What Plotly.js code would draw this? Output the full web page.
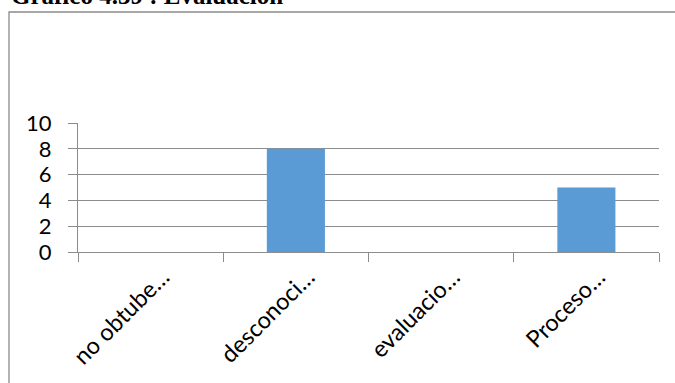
<!DOCTYPE html>
<html>
<head>
<meta charset="utf-8">
<script src="https://cdn.plot.ly/plotly-3.0.1.min.js"></script>
<style>
  html, body { margin: 0; padding: 0; background: #ffffff; }
  #chart { width: 675px; height: 383px; }
</style>
</head>
<body>
<div id="chart"></div>
<script>
// Responses grouped by answer
const categories = ["no obtube…", "desconoci…", "evaluacio…", "Proceso…"];
const counts = [0, 8, 0, 5];
const yTicks = [0, 2, 4, 6, 8, 10];
const heading = "Gráfico 4.39 : Evaluación";

const W = 675, H = 383;
const margin = { l: 78, r: 16, t: 123, b: 131 };
const plotW = W - margin.l - margin.r;
const plotH = H - margin.t - margin.b;
// pixel -> paper helpers for frame and heading placement
const px = x => (x - margin.l) / plotW;
const py = y => (H - margin.b - y) / plotH;

const gridColor = "#8c8c8c";
const sans = "Lato, 'Open Sans', sans-serif";

const trace = {
  type: "bar",
  x: categories,
  y: counts,
  marker: { color: "#5b9bd5", line: { width: 0 } },
  hoverinfo: "skip"
};

const layout = {
  width: W,
  height: H,
  margin: margin,
  paper_bgcolor: "#ffffff",
  plot_bgcolor: "#ffffff",
  bargap: 0.6,
  showlegend: false,
  xaxis: {
    type: "category",
    showline: true,
    linecolor: gridColor,
    linewidth: 1,
    ticks: "outside",
    tickson: "boundaries",
    ticklen: 9,
    tickcolor: gridColor,
    tickwidth: 1,
    tickangle: -45,
    ticklabelshift: 12,
    ticklabelstandoff: 1,
    tickfont: { family: sans, size: 23.5, color: "#000000" },
    showgrid: false,
    zeroline: false
  },
  yaxis: {
    range: [0, 10],
    tickvals: yTicks,
    ticktext: yTicks.map(String),
    showline: true,
    linecolor: gridColor,
    linewidth: 1,
    ticks: "outside",
    ticklen: 9,
    tickcolor: gridColor,
    tickwidth: 1,
    ticklabelstandoff: 12,
    tickfont: { family: sans, size: 22, color: "#000000" },
    showgrid: true,
    gridcolor: gridColor,
    gridwidth: 1,
    zeroline: false
  },
  shapes: [{
    type: "rect",
    xref: "paper", yref: "paper",
    x0: px(9), x1: px(W + 10),
    y0: py(H + 10), y1: py(12),
    line: { color: "#8a8a8a", width: 1.3 },
    fillcolor: "rgba(0,0,0,0)",
    layer: "below"
  }],
  annotations: [{
    text: "<b>" + heading + "</b>",
    xref: "paper", yref: "paper",
    x: px(9), y: py(11),
    xanchor: "left", yanchor: "bottom",
    showarrow: false,
    font: { family: "'Liberation Serif', 'Times New Roman', serif", size: 25, color: "#000000" }
  }]
};

Plotly.newPlot("chart", [trace], layout, { staticPlot: true, displayModeBar: false });
</script>
</body>
</html>
